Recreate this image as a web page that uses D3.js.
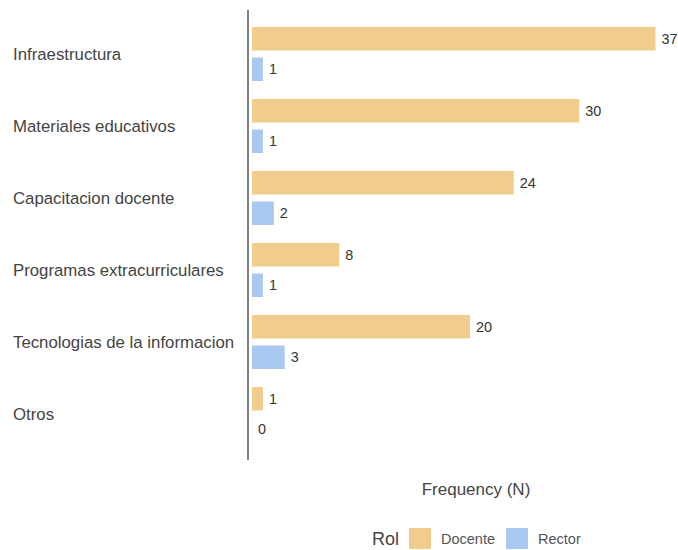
<!DOCTYPE html>
<html>
<head>
<meta charset="utf-8">
<script src="https://cdn.jsdelivr.net/npm/d3@7"></script>
<style>
  body { margin: 0; background: #fff; }
  text { font-family: "Liberation Sans", Arial, sans-serif; }
</style>
</head>
<body>
<div class="chart"></div>
<script>
// data
const categories = ["Infraestructura", "Materiales educativos", "Capacitacion docente",
  "Programas extracurriculares", "Tecnologias de la informacion", "Otros"];
const roles = ["Docente", "Rector"];
const docente = [37, 30, 24, 8, 20, 1];
const rector = [1, 1, 2, 1, 3, 0];
const colors = ["#f0cd8d", "#a9c8f1"];

const rows = [];
categories.forEach((c, i) => {
    rows.push({cat: c, rol: "Docente", n: docente[i]});
    rows.push({cat: c, rol: "Rector", n: rector[i]});
});

const W = 678, H = 550;
const margin = ({top: 10, right: 20, bottom: 90, left: 248});

const svg = d3.select(".chart")
    .append("svg")
    .attr("width", W)
    .attr("height", H);

// scales
const xScale = d3.scaleLinear()
    .domain([0, 37])
    .range([margin.left + 4, 655.5]);

const yScale = d3.scaleBand()
    .domain(categories)
    .range([18, 450])
    .paddingInner(0.25)
    .paddingOuter(0.125);

const subScale = d3.scaleBand()
    .domain(roles)
    .range([0, yScale.bandwidth()])
    .paddingInner(0.23);

const color = d3.scaleOrdinal().domain(roles).range(colors);

// y axis line + labels
svg.append("line")
    .attr("x1", margin.left).attr("x2", margin.left)
    .attr("y1", margin.top).attr("y2", H - margin.bottom)
    .attr("stroke", "#555")
    .attr("stroke-width", 1.5);

svg.selectAll(".cat-label")
    .data(categories)
    .enter()
    .append("text")
    .attr("class", "cat-label")
    .attr("x", 13)
    .attr("y", d => yScale(d) + yScale.bandwidth() / 2 + 6)
    .attr("font-size", 16.8)
    .attr("fill", "#444")
    .text(d => d);

// bars
svg.selectAll("rect.bar")
    .data(rows)
    .enter()
    .append("rect")
    .attr("class", "bar")
    .attr("x", xScale(0))
    .attr("y", d => yScale(d.cat) + subScale(d.rol))
    .attr("width", d => xScale(d.n) - xScale(0))
    .attr("height", subScale.bandwidth())
    .attr("fill", d => color(d.rol));

svg.selectAll("text.val")
    .data(rows)
    .enter()
    .append("text")
    .attr("class", "val")
    .attr("x", d => xScale(d.n) + 6)
    .attr("y", d => yScale(d.cat) + subScale(d.rol) + subScale.bandwidth() / 2 + 5)
    .attr("font-size", 14.4)
    .attr("fill", "#333")
    .text(d => d.n);

// x title
svg.append("text")
    .attr("x", 476)
    .attr("y", 495)
    .attr("text-anchor", "middle")
    .attr("font-size", 17)
    .attr("fill", "#444")
    .text("Frequency (N)");

// legend
const legend = svg.append("g");
legend.append("text")
    .attr("x", 372)
    .attr("y", 545)
    .attr("font-size", 18)
    .attr("fill", "#444")
    .text("Rol");

const legX = [409, 506];
roles.forEach((r, i) => {
    legend.append("rect")
        .attr("x", legX[i])
        .attr("y", 528)
        .attr("width", 22)
        .attr("height", 21)
        .attr("fill", color(r));
    legend.append("text")
        .attr("x", legX[i] + 32)
        .attr("y", 544)
        .attr("font-size", 14.5)
        .attr("fill", "#555")
        .text(r);
});
</script>
</body>
</html>
